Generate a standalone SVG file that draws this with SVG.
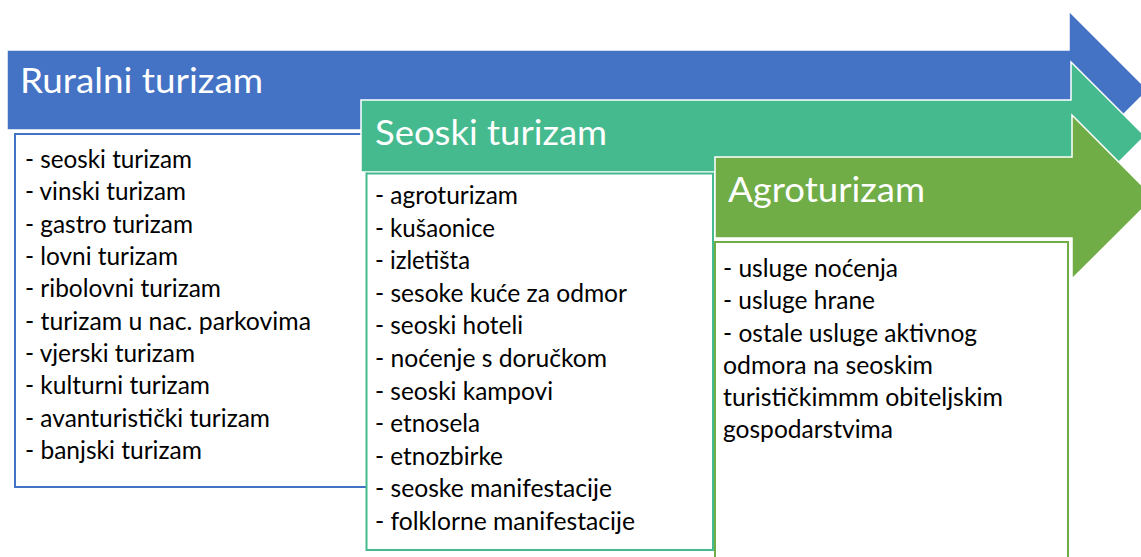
<svg xmlns="http://www.w3.org/2000/svg" width="1141" height="557" viewBox="0 0 1141 557">
<style>
.arrow{stroke:#ffffff;stroke-width:1.5}
.box{fill:#ffffff;stroke-width:2}
.hdr{font-family:Lato,"Open Sans",sans-serif;font-size:35px;fill:#ffffff}
.item{font-family:Lato,"Open Sans",sans-serif;font-size:24.5px;fill:#000000}
</style>
<rect width="1141" height="557" fill="#ffffff"/>
<g id="ruralni">
<polygon class="arrow" fill="#4472C4" points="7,50 1069,50 1069,11 1148,90 1069,169 1069,130 7,130"/>
<text class="hdr" x="20" y="93" textLength="243" lengthAdjust="spacingAndGlyphs">Ruralni turizam</text>
<rect class="box" stroke="#4472C4" x="15" y="134" width="352" height="353"/>
<text class="item" x="25" y="168" textLength="167" lengthAdjust="spacingAndGlyphs">- seoski turizam</text>
<text class="item" x="25" y="200.3" textLength="161" lengthAdjust="spacingAndGlyphs">- vinski turizam</text>
<text class="item" x="25" y="232.6" textLength="168" lengthAdjust="spacingAndGlyphs">- gastro turizam</text>
<text class="item" x="25" y="265" textLength="153" lengthAdjust="spacingAndGlyphs">- lovni turizam</text>
<text class="item" x="25" y="297.3" textLength="196" lengthAdjust="spacingAndGlyphs">- ribolovni turizam</text>
<text class="item" x="25" y="329.6" textLength="286" lengthAdjust="spacingAndGlyphs">- turizam u nac. parkovima</text>
<text class="item" x="25" y="362" textLength="170" lengthAdjust="spacingAndGlyphs">- vjerski turizam</text>
<text class="item" x="25" y="394.3" textLength="185" lengthAdjust="spacingAndGlyphs">- kulturni turizam</text>
<text class="item" x="25" y="426.6" textLength="245" lengthAdjust="spacingAndGlyphs">- avanturistički turizam</text>
<text class="item" x="25" y="459" textLength="177" lengthAdjust="spacingAndGlyphs">- banjski turizam</text>
</g>
<g id="seoski">
<polygon class="arrow" fill="#44BA8E" points="361,100 1071,100 1071,62 1145,136 1071,210 1071,172 361,172"/>
<text class="hdr" x="375" y="145" textLength="232" lengthAdjust="spacingAndGlyphs">Seoski turizam</text>
<rect class="box" stroke="#44BA8E" x="366.5" y="173.5" width="346.5" height="376.5"/>
<text class="item" x="375" y="204" textLength="143" lengthAdjust="spacingAndGlyphs">- agroturizam</text>
<text class="item" x="375" y="236.6" textLength="120" lengthAdjust="spacingAndGlyphs">- kušaonice</text>
<text class="item" x="375" y="269.2" textLength="95" lengthAdjust="spacingAndGlyphs">- izletišta</text>
<text class="item" x="375" y="301.8" textLength="252" lengthAdjust="spacingAndGlyphs">- sesoke kuće za odmor</text>
<text class="item" x="375" y="334.4" textLength="148" lengthAdjust="spacingAndGlyphs">- seoski hoteli</text>
<text class="item" x="375" y="367" textLength="232" lengthAdjust="spacingAndGlyphs">- noćenje s doručkom</text>
<text class="item" x="375" y="399.6" textLength="178" lengthAdjust="spacingAndGlyphs">- seoski kampovi</text>
<text class="item" x="375" y="432.2" textLength="105" lengthAdjust="spacingAndGlyphs">- etnosela</text>
<text class="item" x="375" y="464.8" textLength="128" lengthAdjust="spacingAndGlyphs">- etnozbirke</text>
<text class="item" x="375" y="497.4" textLength="237" lengthAdjust="spacingAndGlyphs">- seoske manifestacije</text>
<text class="item" x="375" y="530" textLength="260" lengthAdjust="spacingAndGlyphs">- folklorne manifestacije</text>
</g>
<g id="agroturizam">
<polygon class="arrow" fill="#70AD47" points="715,157 1072,157 1072,115 1154,197.5 1072,279 1072,238 715,238"/>
<text class="hdr" x="728" y="202" textLength="197" lengthAdjust="spacingAndGlyphs">Agroturizam</text>
<rect class="box" stroke="#70AD47" x="715" y="242" width="353" height="330"/>
<text class="item" x="723" y="277" textLength="175" lengthAdjust="spacingAndGlyphs">- usluge noćenja</text>
<text class="item" x="723" y="309" textLength="152" lengthAdjust="spacingAndGlyphs">- usluge hrane</text>
<text class="item" x="723" y="341.5" textLength="254" lengthAdjust="spacingAndGlyphs">- ostale usluge aktivnog</text>
<text class="item" x="723" y="373.5" textLength="210" lengthAdjust="spacingAndGlyphs">odmora na seoskim</text>
<text class="item" x="723" y="406" textLength="280" lengthAdjust="spacingAndGlyphs">turističkimmm obiteljskim</text>
<text class="item" x="723" y="438" textLength="170" lengthAdjust="spacingAndGlyphs">gospodarstvima</text>
</g>
<g id="connectors"/>
</svg>
